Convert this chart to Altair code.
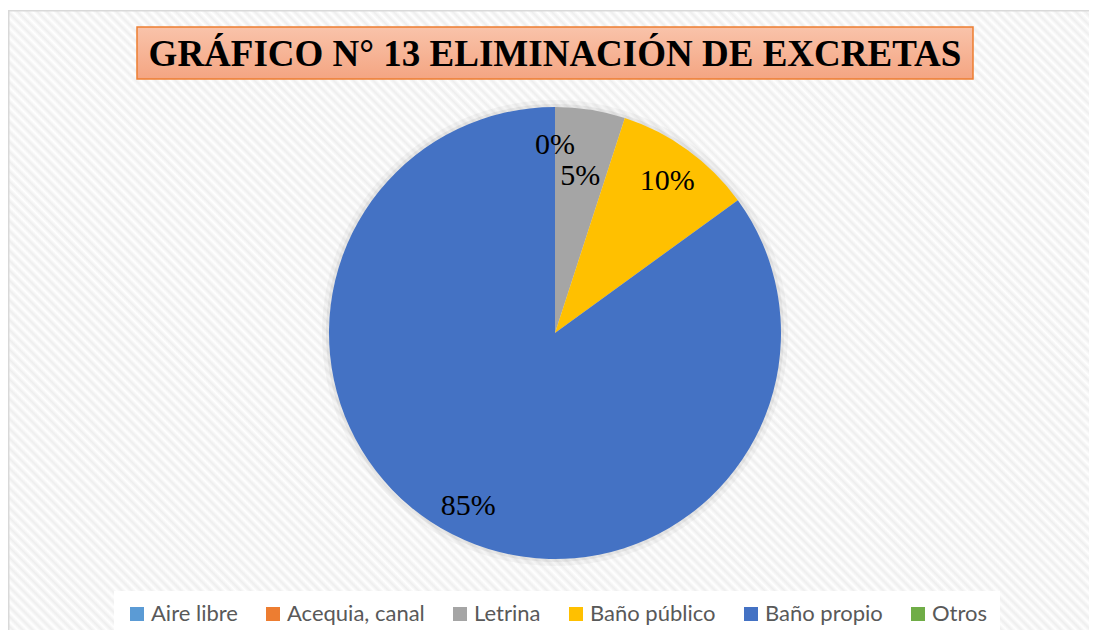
import math
import altair as alt
import pandas as pd

# ---- data ----
categories = ["Aire libre", "Acequia, canal", "Letrina", "Baño público", "Baño propio", "Otros"]
values = [0, 0, 5, 10, 85, 0]
colors = ["#5B9BD5", "#ED7D31", "#A5A5A5", "#FFC000", "#4472C4", "#70AD47"]
labels = [f"{v}%" for v in values]
title_text = "GRÁFICO N° 13 ELIMINACIÓN DE EXCRETAS"

df = pd.DataFrame({
    "cat": categories,
    "value": values,
    "label": labels,
    "idx": list(range(len(categories))),
})
one = pd.DataFrame({"a": [0]})

# ---- layout ----
W, H = 1081, 620
CX, CY, R = 547, 323, 226

# diagonal stripe background (style only)
N = 172
stripe_stops = []
for k in range(N):
    stripe_stops.append(alt.GradientStop(offset=k / N, color="#ffffff"))
    stripe_stops.append(alt.GradientStop(offset=(k + 0.5) / N, color="#eeeeee"))
stripe_stops.append(alt.GradientStop(offset=1.0, color="#ffffff"))

bg = alt.Chart(one).mark_rect(
    fill=alt.Gradient(gradient="linear", stops=stripe_stops, x1=0, y1=1, x2=1.184, y2=0.321)
).encode(x=alt.value(0), x2=alt.value(W), y=alt.value(0), y2=alt.value(H))

border_left = alt.Chart(one).mark_rule(color="#d9d9d9", strokeWidth=1.5).encode(
    x=alt.value(0.75), y=alt.value(0), y2=alt.value(H))
border_top = alt.Chart(one).mark_rule(color="#d9d9d9", strokeWidth=1.5).encode(
    y=alt.value(0.75), x=alt.value(0), x2=alt.value(W))

shadow1 = alt.Chart(one).mark_arc(radius=R + 7, theta=0, theta2=2 * math.pi,
                                  color="#000000", opacity=0.035).encode(
    x=alt.value(CX), y=alt.value(CY))
shadow2 = alt.Chart(one).mark_arc(radius=R + 3, theta=0, theta2=2 * math.pi,
                                  color="#000000", opacity=0.05).encode(
    x=alt.value(CX), y=alt.value(CY))

theta = alt.Theta("value:Q", stack=True)
order = alt.Order("idx:Q")

pie = alt.Chart(df).mark_arc(radius=R).encode(
    theta=theta,
    order=order,
    color=alt.Color(
        "cat:N",
        scale=alt.Scale(domain=categories, range=colors),
        legend=alt.Legend(
            title=None, orient="none", legendX=106, legendY=581,
            direction="horizontal", columns=6,
            symbolType="square", symbolSize=196, symbolStrokeWidth=0,
            labelFont="Lato", labelFontSize=22, labelColor="#595959",
            labelOffset=3, columnPadding=24, padding=12,
            fillColor="white", labelLimit=400,
        ),
    ),
    x=alt.value(CX), y=alt.value(CY),
)

# the three 0% labels coincide; draw one of them only so it is not over-inked
main_show = "datum.cat == 'Aire libre' || datum.cat == 'Baño público' || datum.cat == 'Baño propio'"

txt_main = alt.Chart(df).mark_text(
    radius=191, font="Liberation Serif", fontSize=30, color="black",
    align="center", baseline="middle", dy=3
).encode(
    theta=theta, order=order, text="label:N",
    opacity=alt.condition(main_show, alt.value(1), alt.value(0)),
    x=alt.value(CX), y=alt.value(CY),
)
txt_inner = alt.Chart(df).mark_text(
    radius=162, font="Liberation Serif", fontSize=30, color="black",
    align="center", baseline="middle", dy=3
).encode(
    theta=theta, order=order, text="label:N",
    opacity=alt.condition("datum.cat == 'Letrina'", alt.value(1), alt.value(0)),
    x=alt.value(CX), y=alt.value(CY),
)

title_box = alt.Chart(one).mark_rect(
    fill=alt.Gradient(gradient="linear", x1=0, y1=0, x2=0, y2=1, stops=[
        alt.GradientStop(offset=0, color="#F9C3AA"),
        alt.GradientStop(offset=1, color="#F4A582"),
    ]),
    stroke="#ED7D31", strokeWidth=1.5,
).encode(x=alt.value(129), x2=alt.value(965), y=alt.value(17), y2=alt.value(69))

title = alt.Chart(one).mark_text(
    text=title_text, font="Liberation Serif", fontWeight="bold", fontSize=37,
    color="black", align="center", baseline="middle"
).encode(x=alt.value(547), y=alt.value(45))

chart = alt.layer(
    bg, border_left, border_top, shadow1, shadow2, pie, txt_main, txt_inner, title_box, title
).properties(
    width=W, height=H,
    padding={"left": 0, "top": 2, "right": 0, "bottom": 0},
    autosize=alt.AutoSizeParams(type="none"),
).configure_view(stroke=None)

chart.save("out.html", embed_options={"renderer": "svg", "actions": False})
